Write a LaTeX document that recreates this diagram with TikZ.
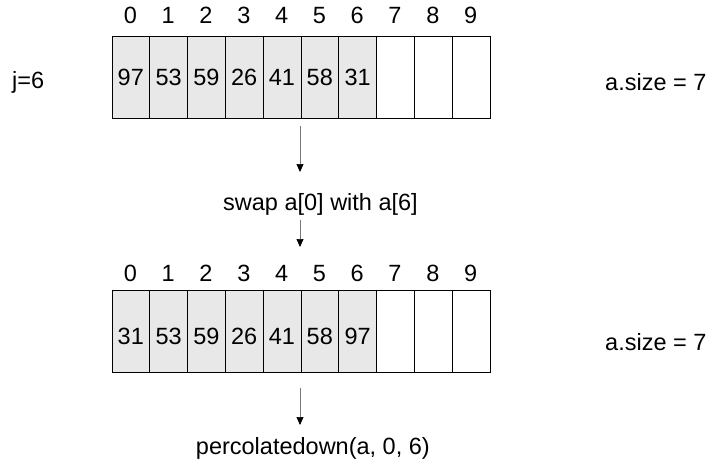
\documentclass[tikz,border=0pt]{standalone}
\usepackage{fontspec}
\setmainfont{Liberation Sans}
\usetikzlibrary{arrows.meta}
\definecolor{cellfill}{RGB}{232,232,232}
\definecolor{arrline}{RGB}{120,120,120}
\tikzset{
  txt/.style={inner sep=0pt, font=\fontsize{23.5}{27}\selectfont},
  digits/.style={txt, text height=16.8pt, text depth=0pt},
  cell/.style={draw=black, line width=0.8pt, minimum width=37.8pt, minimum height=82pt, inner sep=0pt, anchor=north west},
  used/.style={cell, fill=cellfill},
  free/.style={cell, fill=white},
  arr/.style={draw=arrline, line width=0.7pt, -{Triangle[length=8pt,width=7pt,black]}}
}
\begin{document}
\begin{tikzpicture}[x=1pt,y=-1pt]
  \useasboundingbox (0,0) rectangle (710,466);

  % first array: before the swap
  \foreach \v [count=\i from 0] in {97,53,59,26,41,58,31} {
    \node[used] (a\i) at ({111.5+37.8*\i},36) {};
    \node[digits] (av\i) at (a\i.center) {\v};
  }
  \foreach \i in {7,8,9} {
    \node[free] (a\i) at ({111.5+37.8*\i},36) {};
  }
  \foreach \i in {0,...,9} {
    \node[digits] (ai\i) at ({111.5+37.8*\i+18.9},15.5) {\i};
  }
  \node[txt, anchor=west] (j) at (12,82) {j=6};
  \node[txt, anchor=west] (sz1) at (605,82) {a.size = 7};

  % step label between the arrays
  \node[txt, anchor=east] (swap) at (418,204) {swap a[0] with a[6]};
  \coordinate (p1) at (300,126);
  \coordinate (p2) at (300,172);
  \coordinate (p3) at (300,220);
  \coordinate (p4) at (300,247);
  \draw[arr] (p1) -- (p2);
  \draw[arr] (p3) -- (p4);

  % second array: after the swap
  \foreach \v [count=\i from 0] in {31,53,59,26,41,58,97} {
    \node[used] (b\i) at ({111.5+37.8*\i},290) {};
    \node[digits] (bv\i) at ([yshift=-5pt]b\i.center) {\v};
  }
  \foreach \i in {7,8,9} {
    \node[free] (b\i) at ({111.5+37.8*\i},290) {};
  }
  \foreach \i in {0,...,9} {
    \node[digits] (bi\i) at ({111.5+37.8*\i+18.9},273) {\i};
  }
  \node[txt, anchor=west] (sz2) at (605,342) {a.size = 7};

  % next step
  \coordinate (p5) at (300,388);
  \coordinate (p6) at (300,425);
  \draw[arr] (p5) -- (p6);
  \node[txt, anchor=east] (perc) at (430,448) {percolatedown(a, 0, 6)};
\end{tikzpicture}
\end{document}
